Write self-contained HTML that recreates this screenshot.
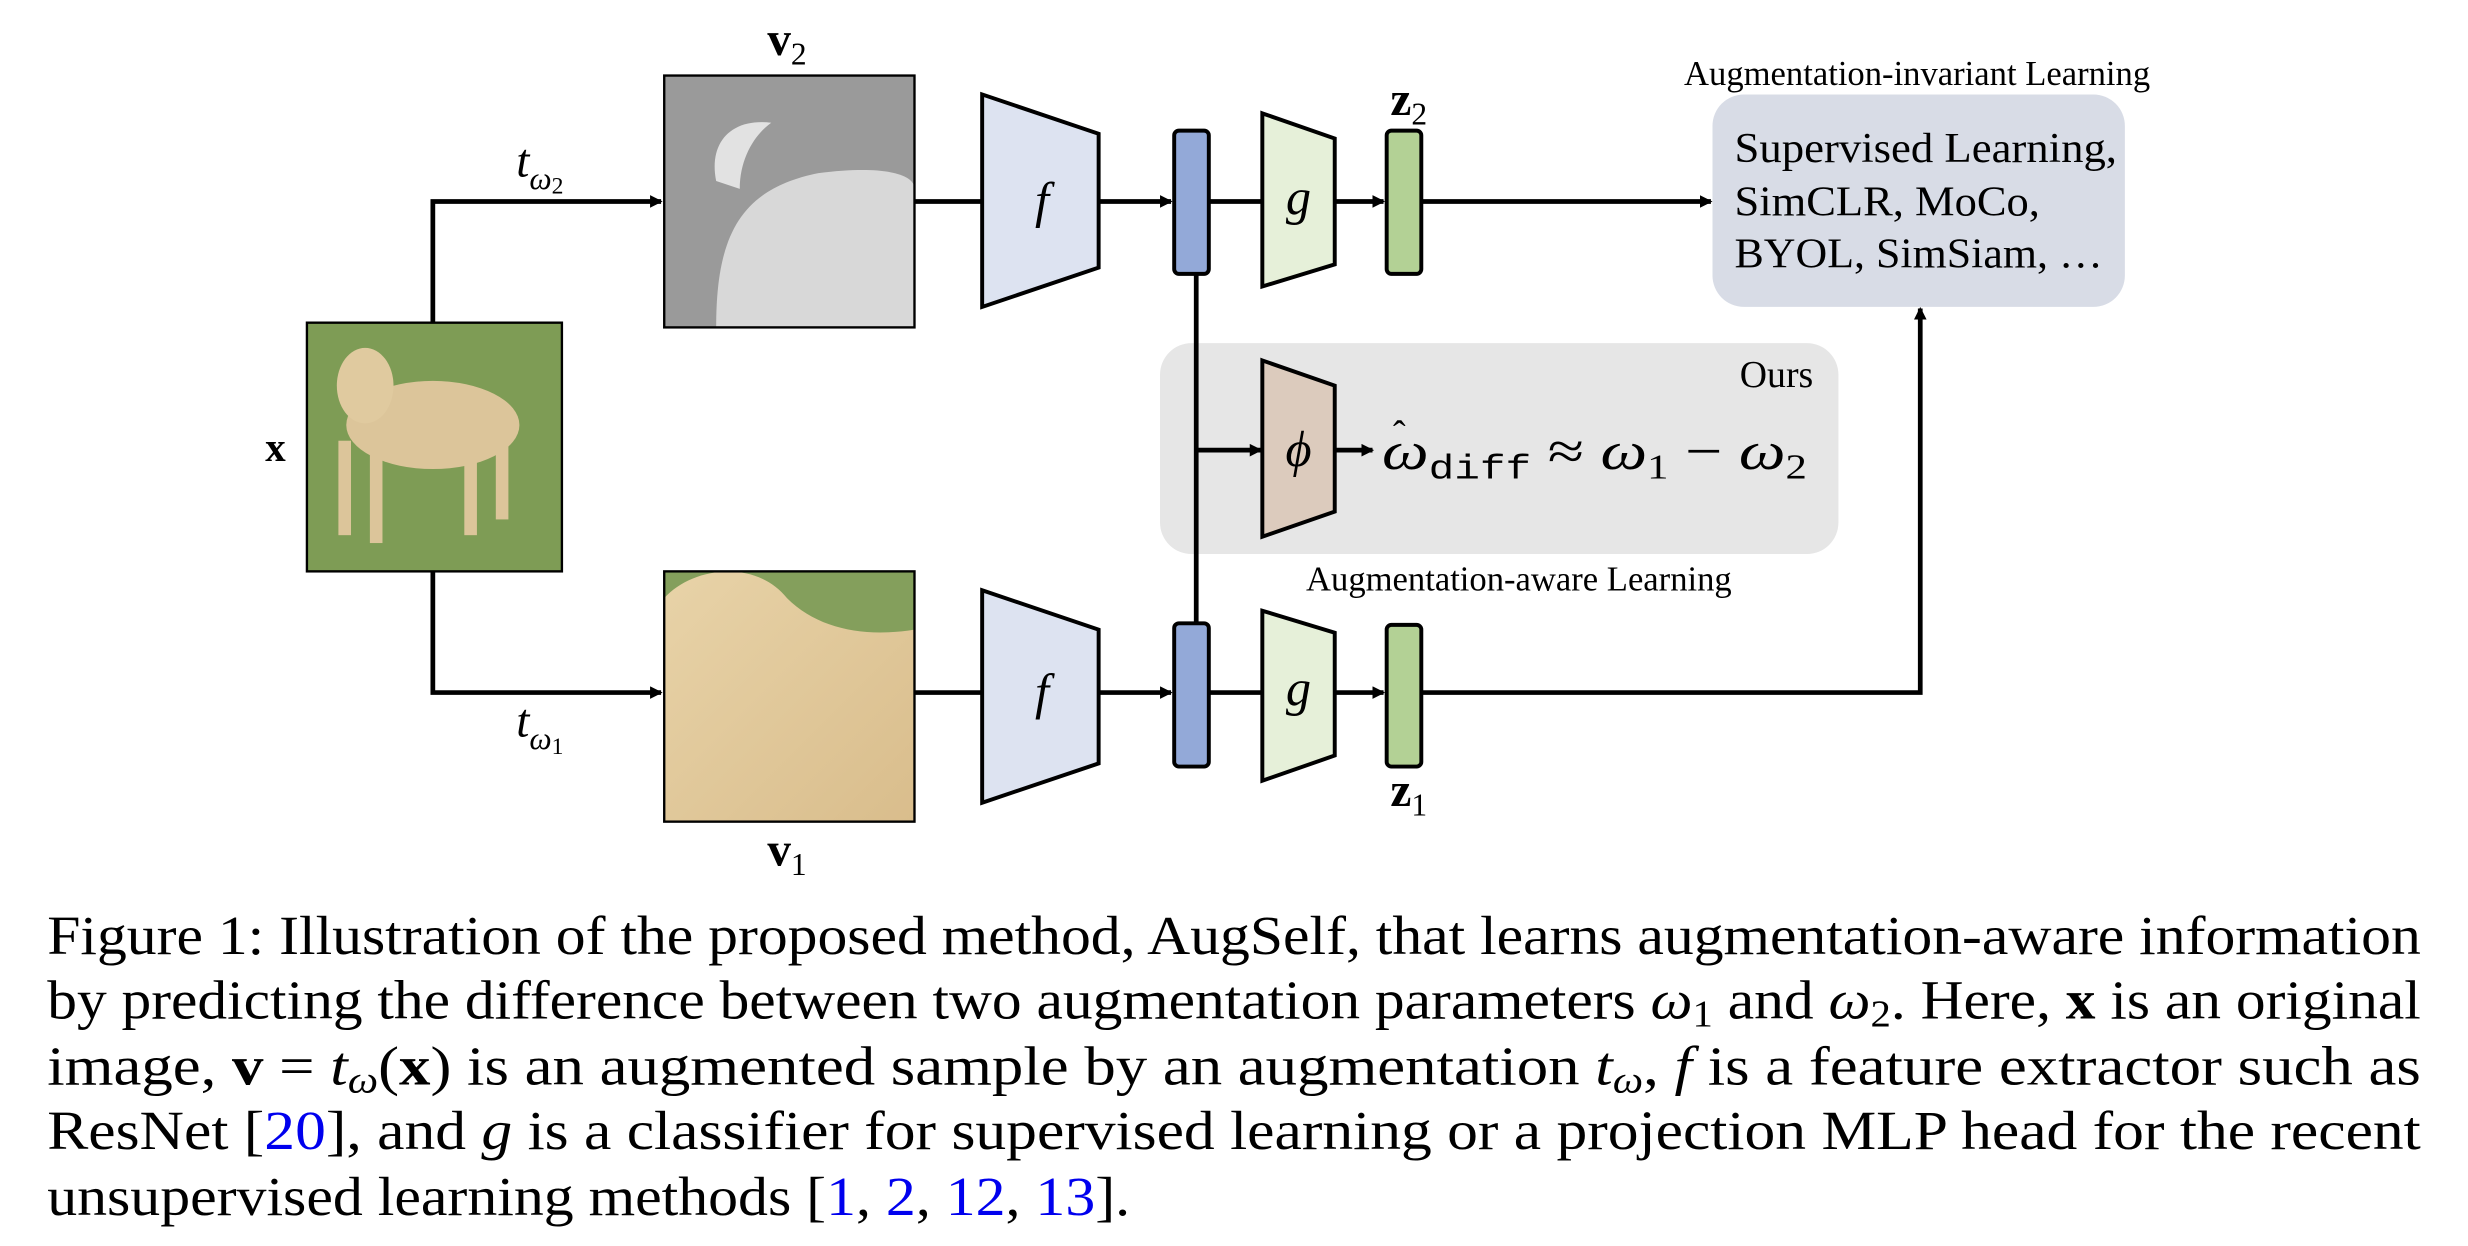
<!DOCTYPE html>
<html><head><meta charset="utf-8"><style>
html,body{margin:0;padding:0;background:#fff;}
svg{display:block;}
</style></head><body>
<svg width="2468" height="1246" viewBox="0 0 1568 791.6" preserveAspectRatio="none" xmlns="http://www.w3.org/2000/svg" font-family="'Liberation Serif', serif">
<defs>
<marker id="ah" markerWidth="8" markerHeight="8" refX="7" refY="4" orient="auto" markerUnits="userSpaceOnUse"><path d="M0,0 L8,4 L0,8 z" fill="#000"/></marker>
<linearGradient id="v1g" x1="0" y1="0" x2="1" y2="1"><stop offset="0" stop-color="#e8d3a8"/><stop offset="1" stop-color="#d9bd8c"/></linearGradient>
</defs>
<!-- x image -->
<rect x="195" y="205" width="162" height="158" fill="#7e9c55"/>
<ellipse cx="275" cy="270" rx="55" ry="28" fill="#dcc59a"/>
<ellipse cx="232" cy="245" rx="18" ry="24" fill="#e0ca9f"/>
<rect x="215" y="280" width="8" height="60" fill="#dcc59a"/><rect x="235" y="280" width="8" height="65" fill="#dcc59a"/>
<rect x="295" y="285" width="8" height="55" fill="#dcc59a"/><rect x="315" y="280" width="8" height="50" fill="#dcc59a"/>
<rect x="195" y="205" width="162" height="158" fill="none" stroke="#000" stroke-width="1.5"/>
<text x="175" y="293" font-size="26" font-weight="bold" text-anchor="middle">x</text>
<!-- branches -->
<polyline points="275,205 275,128 420,128" fill="none" stroke="#000" stroke-width="3" marker-end="url(#ah)"/>
<polyline points="275,363 275,440 420,440" fill="none" stroke="#000" stroke-width="3" marker-end="url(#ah)"/>
<text x="328" y="112" font-size="30" font-style="italic">t<tspan font-size="20" dy="8">ω</tspan><tspan font-size="15" dy="3" font-style="normal">2</tspan></text>
<text x="328" y="468" font-size="30" font-style="italic">t<tspan font-size="20" dy="8">ω</tspan><tspan font-size="15" dy="3" font-style="normal">1</tspan></text>
<!-- v2 -->
<rect x="422" y="48" width="159" height="160" fill="#9a9a9a"/>
<path d="M455,208 C455,150 470,120 520,110 C560,105 581,110 581,120 L581,208 z" fill="#d8d8d8"/>
<path d="M455,115 C450,90 465,75 490,78 C480,85 470,100 470,120 z" fill="#e2e2e2"/>
<rect x="422" y="48" width="159" height="160" fill="none" stroke="#000" stroke-width="1.5"/>
<text x="500" y="35" font-size="30" font-weight="bold" text-anchor="middle">v<tspan font-size="20" dy="6" font-weight="normal">2</tspan></text>
<!-- v1 -->
<rect x="422" y="363" width="159" height="159" fill="#849f5c"/>
<path d="M422,522 L422,380 C440,360 480,355 500,380 C520,400 550,405 581,400 L581,522 z" fill="url(#v1g)"/>
<rect x="422" y="363" width="159" height="159" fill="none" stroke="#000" stroke-width="1.5"/>
<text x="500" y="550" font-size="30" font-weight="bold" text-anchor="middle">v<tspan font-size="20" dy="6" font-weight="normal">1</tspan></text>
<!-- lines to f -->
<line x1="581" y1="128" x2="624" y2="128" stroke="#000" stroke-width="3"/>
<line x1="581" y1="440" x2="624" y2="440" stroke="#000" stroke-width="3"/>
<polygon points="624,60 698,85 698,170 624,195" fill="#dde3f1" stroke="#000" stroke-width="2.5"/>
<polygon points="624,375 698,400 698,485 624,510" fill="#dde3f1" stroke="#000" stroke-width="2.5"/>
<text x="662" y="138" font-size="32" font-style="italic" text-anchor="middle">f</text>
<text x="662" y="450" font-size="32" font-style="italic" text-anchor="middle">f</text>
<line x1="698" y1="128" x2="744" y2="128" stroke="#000" stroke-width="3" marker-end="url(#ah)"/>
<line x1="698" y1="440" x2="744" y2="440" stroke="#000" stroke-width="3" marker-end="url(#ah)"/>
<!-- Ours box -->
<rect x="737" y="218" width="431" height="134" rx="20" fill="#e6e6e6"/>
<text x="1152" y="246" font-size="24" text-anchor="end">Ours</text>
<line x1="760" y1="174" x2="760" y2="395" stroke="#000" stroke-width="3"/>
<line x1="760" y1="286" x2="801" y2="286" stroke="#000" stroke-width="3" marker-end="url(#ah)"/>
<polygon points="802,229 848,245 848,325 802,341" fill="#dccbbd" stroke="#000" stroke-width="2.5"/>
<text x="825" y="296" font-size="32" font-style="italic" text-anchor="middle">ϕ</text>
<line x1="848" y1="286" x2="872" y2="286" stroke="#000" stroke-width="3" marker-end="url(#ah)"/>
<text x="885" y="284" font-size="24">ˆ</text>
<text x="878" y="298" font-size="34" textLength="270" lengthAdjust="spacingAndGlyphs"><tspan font-style="italic">ω</tspan><tspan font-family="'Liberation Mono', monospace" font-size="22" dy="6">diff</tspan><tspan dy="-6"> ≈ </tspan><tspan font-style="italic">ω</tspan><tspan font-size="22" dy="6">1</tspan><tspan dy="-6"> − </tspan><tspan font-style="italic">ω</tspan><tspan font-size="22" dy="6">2</tspan></text>
<text x="965" y="375" font-size="22" text-anchor="middle">Augmentation-aware Learning</text>
<!-- blue bars -->
<rect x="746" y="83" width="22" height="91" rx="3" fill="#93a9d8" stroke="#000" stroke-width="2.5"/>
<rect x="746" y="396" width="22" height="91" rx="3" fill="#93a9d8" stroke="#000" stroke-width="2.5"/>
<line x1="768" y1="128" x2="802" y2="128" stroke="#000" stroke-width="3"/>
<line x1="768" y1="440" x2="802" y2="440" stroke="#000" stroke-width="3"/>
<polygon points="802,72 848,88 848,168 802,182" fill="#e6f0d9" stroke="#000" stroke-width="2.5"/>
<polygon points="802,388 848,402 848,480 802,496" fill="#e6f0d9" stroke="#000" stroke-width="2.5"/>
<text x="825" y="136" font-size="32" font-style="italic" text-anchor="middle">g</text>
<text x="825" y="448" font-size="32" font-style="italic" text-anchor="middle">g</text>
<line x1="848" y1="128" x2="879" y2="128" stroke="#000" stroke-width="3" marker-end="url(#ah)"/>
<line x1="848" y1="440" x2="879" y2="440" stroke="#000" stroke-width="3" marker-end="url(#ah)"/>
<rect x="881" y="83" width="22" height="91" rx="3" fill="#b3d195" stroke="#000" stroke-width="2.5"/>
<rect x="881" y="397" width="22" height="90" rx="3" fill="#b3d195" stroke="#000" stroke-width="2.5"/>
<text x="895" y="73" font-size="30" font-weight="bold" text-anchor="middle">z<tspan font-size="20" dy="6" font-weight="normal">2</tspan></text>
<text x="895" y="512" font-size="30" font-weight="bold" text-anchor="middle">z<tspan font-size="20" dy="6" font-weight="normal">1</tspan></text>
<!-- right box -->
<rect x="1088" y="60" width="262" height="135" rx="20" fill="#d8dce6"/>
<text x="1218" y="54" font-size="22" text-anchor="middle">Augmentation-invariant Learning</text>
<text x="1102" y="103" font-size="27" textLength="243" lengthAdjust="spacingAndGlyphs">Supervised Learning,</text>
<text x="1102" y="137" font-size="27" textLength="194" lengthAdjust="spacingAndGlyphs">SimCLR, MoCo,</text>
<text x="1102" y="170" font-size="27" textLength="234" lengthAdjust="spacingAndGlyphs">BYOL, SimSiam, …</text>
<line x1="904" y1="128" x2="1087" y2="128" stroke="#000" stroke-width="3" marker-end="url(#ah)"/>
<polyline points="904,440 1220,440 1220,196" fill="none" stroke="#000" stroke-width="3" marker-end="url(#ah)"/>
<!-- caption -->
<g font-size="35">
<text x="30" y="606" textLength="1508" lengthAdjust="spacingAndGlyphs">Figure 1: Illustration of the proposed method, AugSelf, that learns augmentation-aware information</text>
<text x="30" y="647" textLength="1508" lengthAdjust="spacingAndGlyphs">by predicting the difference between two augmentation parameters <tspan font-style="italic">ω</tspan><tspan font-size="24" dy="5">1</tspan><tspan dy="-5"> and </tspan><tspan font-style="italic">ω</tspan><tspan font-size="24" dy="5">2</tspan><tspan dy="-5">. Here, </tspan><tspan font-weight="bold">x</tspan> is an original</text>
<text x="30" y="689" textLength="1508" lengthAdjust="spacingAndGlyphs">image, <tspan font-weight="bold">v</tspan> = <tspan font-style="italic">t</tspan><tspan font-style="italic" font-size="24" dy="5">ω</tspan><tspan dy="-5">(</tspan><tspan font-weight="bold">x</tspan>) is an augmented sample by an augmentation <tspan font-style="italic">t</tspan><tspan font-style="italic" font-size="24" dy="5">ω</tspan><tspan dy="-5">, </tspan><tspan font-style="italic">f</tspan> is a feature extractor such as</text>
<text x="30" y="730" textLength="1508" lengthAdjust="spacingAndGlyphs">ResNet [<tspan fill="#0000ee">20</tspan>], and <tspan font-style="italic">g</tspan> is a classifier for supervised learning or a projection MLP head for the recent</text>
<text x="30" y="772" textLength="688" lengthAdjust="spacingAndGlyphs">unsupervised learning methods [<tspan fill="#0000ee">1</tspan>, <tspan fill="#0000ee">2</tspan>, <tspan fill="#0000ee">12</tspan>, <tspan fill="#0000ee">13</tspan>].</text>
</g>
</svg>
</body></html>
